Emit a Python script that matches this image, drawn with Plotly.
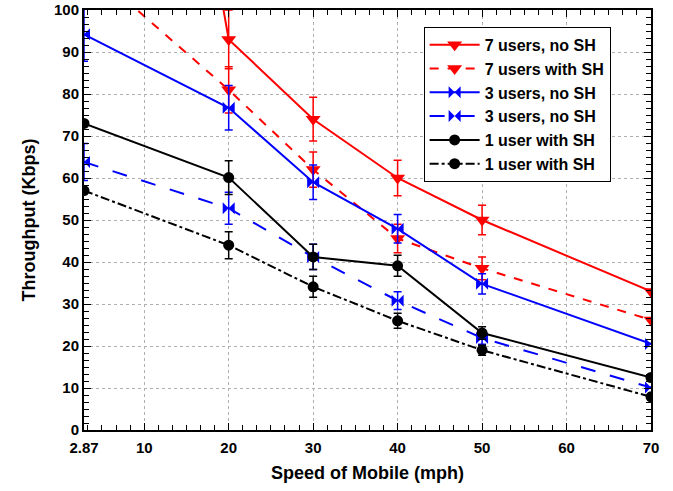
import plotly.graph_objects as go

speed = [2.87, 20, 30, 40, 50, 70]

names = ["7 users, no SH", "7 users with SH", "3 users, no SH",
         "3 users, no SH", "1 user with SH", "1 user with SH"]

u7_noSH = [290, 93, 74, 60, 50, 33]
u7_noSH_err = [0, 7, 5.2, 4.2, 3.5, 0]

u7_SH = [111, 81, 62, 45.6, 38.5, 26.2]
u7_SH_err = [0, 5.5, 4.2, 3.4, 2.7, 0]

u3_a = [94.2, 76.7, 59, 47.9, 34.8, 20.5]
u3_a_err = [6.4, 5.3, 4.1, 3.4, 2.4, 0]

u3_b = [63.8, 52.8, 41.2, 30.8, 21.9, 10.1]
u3_b_err = [4.4, 3.8, 3.0, 2.1, 1.5, 0]

u1_a = [73, 60.1, 41.2, 39.1, 23.1, 12.5]
u1_a_err = [0, 4.0, 3.0, 2.5, 1.5, 0]

u1_b = [57, 44, 34.1, 26, 19, 7.9]
u1_b_err = [0, 3.2, 2.5, 1.8, 1.2, 0]

x_ticks = [2.87, 10, 20, 30, 40, 50, 60, 70]
x_ticktext = ["2.87", "10", "20", "30", "40", "50", "60", "70"]

series = [
    (u7_noSH, u7_noSH_err, "#ff0000", "solid", "triangle-down", 13),
    (u7_SH, u7_SH_err, "#ff0000", "dash", "triangle-down", 13),
    (u3_a, u3_a_err, "#0000ff", "solid", "bowtie", 12),
    (u3_b, u3_b_err, "#0000ff", "longdash", "bowtie", 12),
    (u1_a, u1_a_err, "#000000", "solid", "circle", 11),
    (u1_b, u1_b_err, "#000000", "dashdot", "circle", 11),
]

fig = go.Figure()
for name, (vals, errs, col, dash, sym, size) in zip(names, series):
    fig.add_trace(go.Scatter(
        x=speed, y=vals, name=name, mode="lines+markers",
        line=dict(color=col, width=2, dash=dash),
        marker=dict(symbol=sym, size=size, color=col, line=dict(width=0)),
        error_y=dict(type="data", array=errs, visible=True, color=col,
                     thickness=1.5, width=4),
    ))

font_family = "Liberation Sans, Arial, sans-serif"
fig.update_layout(
    width=673, height=491,
    margin=dict(l=84, r=22, t=10, b=61),
    plot_bgcolor="white", paper_bgcolor="white",
    font=dict(family=font_family, color="black"),
    showlegend=True,
    legend=dict(
        x=0.599, y=0.96, xanchor="left", yanchor="top",
        bgcolor="white", bordercolor="black", borderwidth=1,
        font=dict(size=16, family=font_family, weight="bold"),
        tracegroupgap=0, itemwidth=50,
    ),
)
fig.update_xaxes(
    range=[2.87, 70], tickmode="array", tickvals=x_ticks, ticktext=x_ticktext,
    showline=True, linecolor="black", linewidth=2, mirror="ticks",
    ticks="inside", ticklen=7, tickwidth=1, tickcolor="black",
    showgrid=True, gridcolor="#b0b0b0", gridwidth=1, griddash="dot",
    zeroline=False, ticklabelstandoff=3, automargin=False,
    tickfont=dict(size=15, weight="bold"),
    minor=dict(ticks="inside", ticklen=5, tick0=10, dtick=10/6, tickcolor="black", showgrid=False),
    title=dict(text="Speed of Mobile (mph)", font=dict(size=18, weight="bold"), standoff=11),
)
fig.update_yaxes(
    range=[0, 100], dtick=10, automargin=False,
    showline=True, linecolor="black", linewidth=2, mirror="ticks",
    ticks="inside", ticklen=7, tickwidth=1, tickcolor="black",
    showgrid=True, gridcolor="#b0b0b0", gridwidth=1, griddash="dot",
    zeroline=False,
    tickfont=dict(size=15, weight="bold"),
    minor=dict(ticks="inside", ticklen=5, tick0=0, dtick=10/6, tickcolor="black", showgrid=False),
    title=dict(text="Throughput (Kbps)", font=dict(size=18, weight="bold"), standoff=14),
)

fig.write_html("out.html")
